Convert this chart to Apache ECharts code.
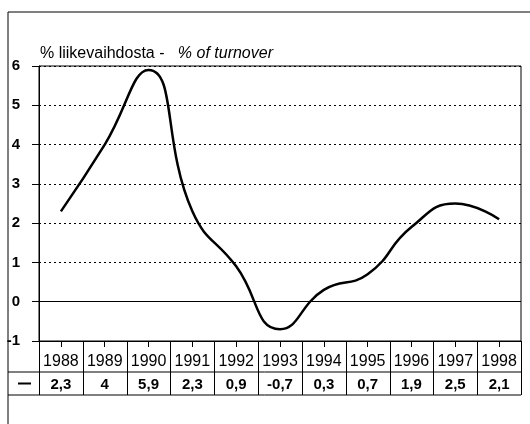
<!DOCTYPE html>
<html>
<head>
<meta charset="utf-8">
<script src="https://cdn.jsdelivr.net/npm/echarts@6/dist/echarts.min.js"></script>
<style>
  html, body { margin: 0; padding: 0; background: #fff; }
  #chart { width: 530px; height: 424px; }
</style>
</head>
<body>
<div id="chart"></div>
<script>
// data
var years = ['1988', '1989', '1990', '1991', '1992', '1993', '1994', '1995', '1996', '1997', '1998'];
var values = [2.3, 4, 5.9, 2.3, 0.9, -0.7, 0.3, 0.7, 1.9, 2.5, 2.1];
var yTicks = [-1, 0, 1, 2, 3, 4, 5, 6];

var font = 'Liberation Sans, Arial, sans-serif';

var myChart = echarts.init(document.getElementById('chart'), null, { renderer: 'canvas' });

var option = {
    animation: false,
    backgroundColor: '#fff',
    title: {
        left: 35,
        top: 41,
        text: '{a|% liikevaihdosta}{a| - }{b|  % of turnover}',
        textStyle: {
            fontWeight: 'normal',
            rich: {
                a: { fontFamily: font, fontSize: 16, fontWeight: 'normal', color: '#000' },
                b: { fontFamily: font, fontSize: 16, fontWeight: 'normal', color: '#000', fontStyle: 'italic' }
            }
        }
    },
    grid: {
        left: 39,
        right: 9,
        top: 66,
        bottom: 83,
        show: true,
        borderColor: '#000',
        borderWidth: 1
    },
    xAxis: {
        type: 'category',
        data: years,
        boundaryGap: true,
        axisLine: { show: true, onZero: false, lineStyle: { color: '#000', width: 1 } },
        axisTick: { show: true, alignWithLabel: true, length: 6, lineStyle: { color: '#000' } },
        axisLabel: {
            margin: 13,
            fontFamily: font,
            fontSize: 16,
            color: '#000',
            interval: 0
        },
        splitLine: { show: false }
    },
    yAxis: {
        type: 'value',
        min: yTicks[0],
        max: yTicks[yTicks.length - 1],
        interval: 1,
        axisLine: { show: true, lineStyle: { color: '#000', width: 1 } },
        axisTick: { show: true, length: 7, lineStyle: { color: '#000' } },
        axisLabel: {
            margin: 19,
            fontFamily: font,
            fontSize: 15,
            fontWeight: 'bold',
            color: '#000'
        },
        splitLine: { show: true, lineStyle: { color: '#000', type: [2, 3], width: 1 } }
    },
    series: [
        {
            type: 'line',
            data: values,
            smooth: true,
            showSymbol: false,
            lineStyle: { color: '#000', width: 2.5 },
            markLine: {
                silent: true,
                symbol: 'none',
                label: { show: false },
                lineStyle: { color: '#000', type: 'solid', width: 1 },
                data: [{ yAxis: 0 }]
            }
        }
    ]
};
myChart.setOption(option);

// table under the plot, placed from the axis scale
function buildTable() {
    var x0 = myChart.convertToPixel({ xAxisIndex: 0 }, years[0]);
    var x1 = myChart.convertToPixel({ xAxisIndex: 0 }, years[1]);
    var band = x1 - x0;
    var left = x0 - band / 2;
    var right = left + band * years.length;
    var top = myChart.convertToPixel({ yAxisIndex: 0 }, yTicks[0]);
    var rowSep = top + 31;
    var bottom = top + 54;
    var frameX = 8;
    var frameY = 12;
    var stroke = { stroke: '#000', lineWidth: 1 };
    var els = [];

    // outer frame
    els.push({ type: 'line', shape: { x1: frameX, y1: frameY, x2: 530, y2: frameY }, style: stroke });
    els.push({ type: 'line', shape: { x1: frameX, y1: frameY, x2: frameX, y2: 424 }, style: stroke });

    // horizontal rules
    els.push({ type: 'line', shape: { x1: frameX, y1: rowSep, x2: right, y2: rowSep }, style: stroke });
    els.push({ type: 'line', shape: { x1: frameX, y1: bottom, x2: right, y2: bottom }, style: stroke });

    // vertical rules
    for (var i = 0; i <= years.length; i++) {
        var x = Math.round(left + band * i) + 0.5;
        els.push({ type: 'line', shape: { x1: x, y1: top, x2: x, y2: bottom }, style: stroke });
    }

    // legend cell
    els.push({
        type: 'line',
        shape: { x1: 18, y1: (rowSep + bottom) / 2, x2: 31, y2: (rowSep + bottom) / 2 },
        style: { stroke: '#000', lineWidth: 2 }
    });

    // value row
    for (var j = 0; j < years.length; j++) {
        var cx = myChart.convertToPixel({ xAxisIndex: 0 }, years[j]);
        els.push({
            type: 'text',
            x: cx,
            y: (rowSep + bottom) / 2 + 1,
            style: {
                text: String(values[j]).replace('.', ','),
                fontFamily: font,
                fontSize: 15,
                fontWeight: 'bold',
                fill: '#000',
                align: 'center',
                verticalAlign: 'middle'
            }
        });
    }

    myChart.setOption({ graphic: els });
}
buildTable();
</script>
</body>
</html>
